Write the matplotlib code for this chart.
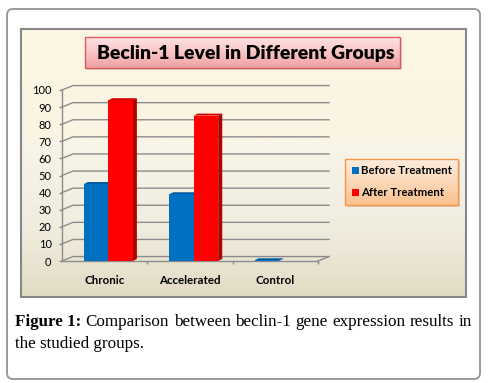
import matplotlib
matplotlib.use('Agg')
import matplotlib.pyplot as plt
import numpy as np
from matplotlib.patches import Rectangle, FancyBboxPatch, Polygon
from matplotlib.colors import LinearSegmentedColormap

# data
groups = ['Chronic', 'Accelerated', 'Control']
before = [45, 39, 0.4]
after = [94, 85, 0]
series_names = ['Before Treatment', 'After Treatment']
series_colors = ['#0070C0', '#FF0000']
side_colors = ['#00508C', '#B00000']
top_colors = ['#005CA0', '#D40000']
yticks = list(range(0, 101, 10))
title = 'Beclin-1 Level in Different Groups'
cap_bold = 'Figure 1:'
cap_words = 'Comparison between beclin-1 gene expression results in'.split()
cap_line2 = 'the studied groups.'

W, H = 494, 383
fig = plt.figure(figsize=(W / 100, H / 100), dpi=100)
bg = fig.add_axes([0, 0, 1, 1])
bg.axis('off')
renderer = fig.canvas.get_renderer()


def grad(x0, y0, x1, y1, stops, z):
    cmap = LinearSegmentedColormap.from_list('g', stops)
    arr = np.linspace(0, 1, 256).reshape(-1, 1)
    bg.imshow(arr, cmap=cmap, extent=(x0, x1, y1, y0), aspect='auto',
              zorder=z, interpolation='bilinear')


def width_px(t):
    return t.get_window_extent(renderer).width


def fit(t, target):
    t.set_fontsize(t.get_fontsize() * target / width_px(t))


# outer frame
bg.add_patch(FancyBboxPatch((7, 9), 473, 370, boxstyle='round,pad=0,rounding_size=6',
                            fc='white', ec='#9a9a9a', lw=1.4, zorder=0))

# chart panel
grad(21, 29, 466, 297, [(0, '#FEF6E5'), (0.4, '#FCF4E3'), (0.43, '#F7F4E8'),
                        (0.75, '#F0ECDE'), (1, '#E2DBC4')], 1)
bg.add_patch(Rectangle((21, 29), 445, 268, fc='none', ec='#878787', lw=1.5, zorder=2))

# title box
bg.add_patch(Rectangle((87, 39), 315, 31, fc='#999999', alpha=0.35, ec='none', zorder=2))
grad(85, 37, 400, 68, ['#FFE4E4', '#F9C4C4', '#F0A0A0'], 3)
bg.add_patch(Rectangle((85, 37), 315, 31, fc='none', ec='#D85A5A', lw=1.0, zorder=4))
tt = bg.text(246, 53, title, ha='center', va='center', fontsize=13,
             fontweight='heavy', family='Lato', color='black', zorder=5)

# legend box
bg.add_patch(Rectangle((347, 161), 113, 46, fc='#999999', alpha=0.35, ec='none', zorder=2))
grad(345, 159, 458, 205, ['#FDEEE2', '#FCD8B8', '#FAC08E'], 3)
bg.add_patch(Rectangle((345, 159), 113, 46, fc='none', ec='#F79646', lw=1.0, zorder=4))
leg_texts = []
for i, (name, col) in enumerate(zip(series_names, series_colors)):
    yy = 170.5 + i * 22
    bg.add_patch(Rectangle((352, yy - 3.5), 7, 7, fc=col, ec='none', zorder=5))
    leg_texts.append(bg.text(361, yy, name, ha='left', va='center', fontsize=8,
                             fontweight='bold', family='Lato', zorder=5))

bg.set_xlim(0, W)
bg.set_ylim(H, 0)

fit(tt, 298)
fit(leg_texts[0], 91)
leg_texts[1].set_fontsize(leg_texts[0].get_fontsize())

# caption, justified first line
t2 = bg.text(15, 348, cap_line2, ha='left', va='baseline', fontsize=11,
             family='Liberation Serif', zorder=5)
fit(t2, 128)
fs = t2.get_fontsize()
pieces = [bg.text(0, 326, cap_bold, ha='left', va='baseline', fontsize=fs,
                  family='Liberation Serif', fontweight='bold', zorder=5)]
for w in cap_words:
    pieces.append(bg.text(0, 326, w, ha='left', va='baseline', fontsize=fs,
                          family='Liberation Serif', zorder=5))
ws = [width_px(p) for p in pieces]
gap = (472 - 15 - sum(ws)) / (len(pieces) - 1)
x = 15
for p, w in zip(pieces, ws):
    p.set_x(x)
    x += w + gap

# the 3d-ish bar chart on the front plane
ax = fig.add_axes([62 / W, 1 - 261 / H, 256 / W, 171 / H])
ax.set_facecolor('none')
ax.set_xlim(-0.5, len(groups) - 0.5)
ax.set_ylim(0, 100)
for s in ['top', 'right']:
    ax.spines[s].set_visible(False)
for s in ['left', 'bottom']:
    ax.spines[s].set_color('#8c8c8c')
    ax.spines[s].set_linewidth(1.0)

DX, DY = 0.129, 2.6
for v in yticks:
    ax.plot([-0.5, -0.5 + DX, len(groups) - 0.5 + DX], [v, v + DY, v + DY],
            color='#8c8c8c', lw=1.0, clip_on=False, zorder=1)
ax.plot([len(groups) - 0.5, len(groups) - 0.5 + DX], [0, DY],
        color='#8c8c8c', lw=1.0, clip_on=False, zorder=1)

xs = np.arange(len(groups))
bw = 0.287
bdx, bdy = 0.047, 1.2
offsets = [-0.1, 0.187]
for k, vals in enumerate([before, after]):
    left = xs + offsets[k] - bw / 2
    ax.bar(xs + offsets[k], vals, width=bw, color=series_colors[k],
           zorder=3 + 2 * k, clip_on=False)
    for l, v in zip(left, vals):
        if v <= 0:
            continue
        r = l + bw
        ax.add_patch(Polygon([(r, 0), (r + bdx, bdy), (r + bdx, v + bdy), (r, v)],
                             closed=True, fc=side_colors[k], ec='none',
                             zorder=2 + 2 * k, clip_on=False))
        ax.add_patch(Polygon([(l, v), (l + bdx, v + bdy), (r + bdx, v + bdy), (r, v)],
                             closed=True, fc=top_colors[k], ec='none',
                             zorder=2 + 2 * k, clip_on=False))

ax.set_yticks(yticks)
ax.set_yticklabels([str(v) for v in yticks], family='Lato', fontsize=8)
ax.tick_params(axis='y', length=2.5, width=1, color='#8c8c8c', pad=5)
ax.set_xticks(xs)
ax.set_xticklabels(groups, family='Lato', fontsize=8.3, fontweight='bold')
ax.set_xticks(np.arange(len(groups)) + 0.5, minor=True)
ax.tick_params(axis='x', which='major', length=0, pad=10)
ax.tick_params(axis='x', which='minor', length=2.5, width=1, color='#8c8c8c')

fig.savefig('out.png', dpi=100)
